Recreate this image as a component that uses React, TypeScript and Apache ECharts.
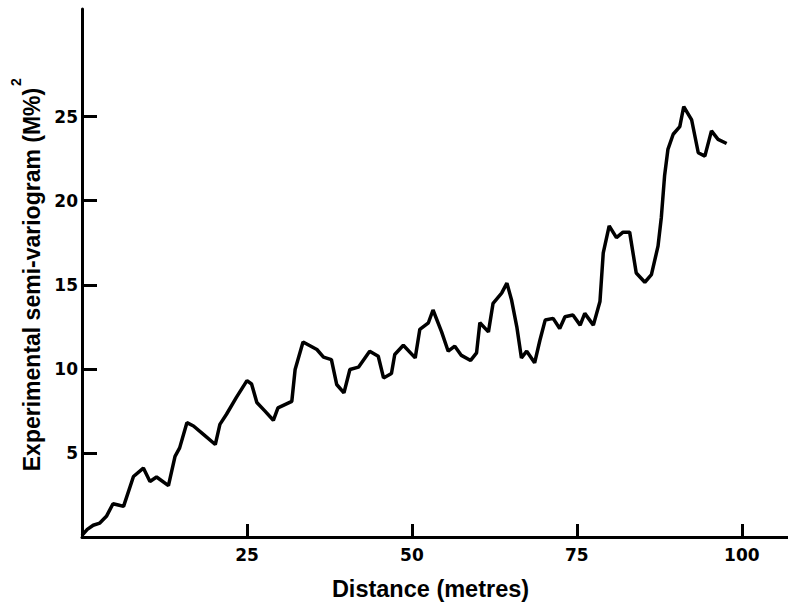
import React, { useEffect, useRef } from "react";
import * as echarts from "echarts";

const distances = [
  0, 0.8, 1.7, 2.7, 3.7, 4.7, 5.5, 6.3, 7.8, 9.3, 10.3, 11.3, 13.1, 14.1, 14.8,
  15.9, 16.9, 18.4, 20.2, 20.9, 21.9, 23.4, 25.0, 25.7, 26.5, 27.7, 29.0, 29.7,
  31.8, 32.3, 33.5, 35.6, 36.6, 37.8, 38.6, 39.7, 40.6, 41.9, 43.6, 44.9, 45.7,
  46.9, 47.4, 48.7, 50.5, 51.2, 52.5, 53.2, 54.5, 55.5, 56.5, 57.5, 58.9, 59.8,
  60.3, 61.6, 62.3, 63.6, 64.4, 65.1, 65.9, 66.6, 67.4, 68.6, 69.4, 70.2, 71.4,
  72.4, 73.2, 74.4, 75.5, 76.2, 77.5, 78.5, 79.0, 79.9, 81.0, 82.0, 83.0, 84.0,
  85.3, 86.3, 87.3, 87.8, 88.3, 88.8, 89.6, 90.6, 91.2, 92.4, 93.4, 94.4, 95.4,
  96.4, 97.7,
];

const semivariogram = [
  0.1, 0.45, 0.7, 0.83, 1.23, 1.98, 1.9, 1.82, 3.6, 4.1, 3.3, 3.57, 3.05, 4.8, 5.3,
  6.8, 6.6, 6.1, 5.5, 6.7, 7.3, 8.3, 9.3, 9.1, 8.0, 7.5, 6.94, 7.68,
  8.07, 9.96, 11.6, 11.15, 10.7, 10.55, 9.07, 8.57, 9.96, 10.1, 11.05, 10.75, 9.46,
  9.72, 10.85, 11.4, 10.65, 12.35, 12.74, 13.5, 12.2, 11.05, 11.35, 10.8, 10.5, 10.95,
  12.74, 12.2, 13.9, 14.5, 15.1, 14.1, 12.5, 10.65, 11.05, 10.36, 11.7, 12.9, 13.0,
  12.4, 13.1, 13.2, 12.6, 13.3, 12.6, 14.0, 16.9, 18.5, 17.8, 18.13, 18.13, 15.7,
  15.15, 15.6, 17.3, 19.0, 21.5, 23.05, 23.95, 24.4, 25.6, 24.8, 22.85, 22.65, 24.15,
  23.65, 23.4,
];

const xTicks = [25, 50, 75, 100];
const yTicks = [5, 10, 15, 20, 25];
const xTitle = "Distance (metres)";
const yTitle = "Experimental semi-variogram (M%)";
const yTitleExponent = "2";

export default function App() {
  const ref = useRef<HTMLDivElement>(null);
  useEffect(() => {
    if (!ref.current) return;
    const chart = echarts.init(ref.current, null, { renderer: "svg" });
    const data = distances.map((d, i) => [d, semivariogram[i]]);
    const tickFont = {
      fontFamily: "DejaVu Sans",
      fontWeight: "bold" as const,
      fontSize: 17,
      color: "#000",
    };
    chart.setOption({
      animation: false,
      backgroundColor: "#fff",
      grid: {
        left: 82,
        right: 0,
        top: 9,
        bottom: 70,
        containLabel: false,
        outerBoundsMode: "none",
      },
      graphic: [
        {
          type: "text",
          x: 23,
          y: 86,
          rotation: Math.PI / 2,
          style: {
            text: yTitleExponent,
            font: "bold 14px 'Liberation Sans'",
            fill: "#000",
            textAlign: "left",
            textVerticalAlign: "bottom",
          },
        },
      ],
      xAxis: {
        type: "value",
        min: 0,
        max: 107,
        name: xTitle,
        nameLocation: "middle",
        nameGap: 40,
        nameMoveOverlap: false,
        nameTextStyle: {
          fontFamily: "Liberation Sans",
          fontWeight: "bold",
          fontSize: 23.5,
          color: "#000",
          padding: [0, 9, 0, 0],
        },
        axisLine: { show: true, lineStyle: { color: "#000", width: 3 } },
        axisTick: {
          show: true,
          inside: true,
          length: 13,
          lineStyle: { color: "#000", width: 3 },
          customValues: xTicks,
        },
        axisLabel: { ...tickFont, margin: 9, customValues: xTicks },
        splitLine: { show: false },
      },
      yAxis: {
        type: "value",
        min: 0,
        max: 31.4,
        name: yTitle,
        nameLocation: "middle",
        nameRotate: 90,
        nameGap: 39,
        nameMoveOverlap: false,
        nameTextStyle: {
          fontFamily: "Liberation Sans",
          fontWeight: "bold",
          fontSize: 23,
          lineHeight: 23,
          color: "#000",
          verticalAlign: "bottom",
          padding: [0, 13, 0, 0],
        },
        axisLine: { show: true, lineStyle: { color: "#000", width: 3 } },
        axisTick: {
          show: true,
          inside: true,
          length: 15,
          lineStyle: { color: "#000", width: 3 },
          customValues: yTicks,
        },
        axisLabel: { ...tickFont, margin: 4, customValues: yTicks },
        splitLine: { show: false },
      },
      series: [
        {
          type: "line",
          data,
          symbol: "none",
          lineStyle: { color: "#000", width: 3.5 },
        },
      ],
    });
    return () => chart.dispose();
  }, []);
  return (
    <div
      ref={ref}
      style={{ position: "fixed", left: 0, top: 0, width: 788, height: 607, background: "#fff" }}
    />
  );
}
